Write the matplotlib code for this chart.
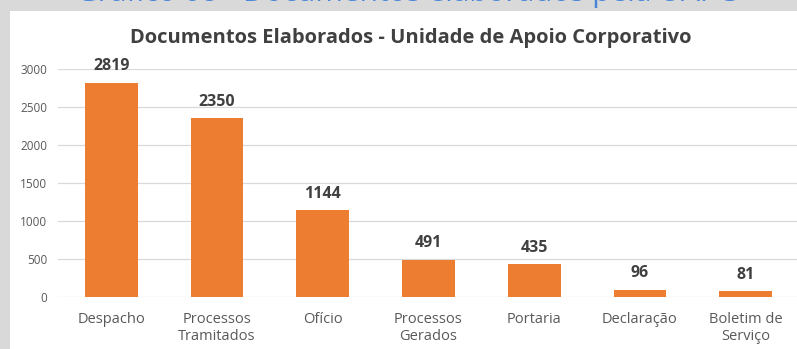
import matplotlib
matplotlib.use("Agg")
import matplotlib.pyplot as plt
from matplotlib.patches import Rectangle

# documents produced by type
categorias = ["Despacho", "Processos\nTramitados", "Ofício", "Processos\nGerados",
              "Portaria", "Declaração", "Boletim de\nServiço"]
valores = [2819, 2350, 1144, 491, 435, 96, 81]
yticks = [0, 500, 1000, 1500, 2000, 2500, 3000]

plt.rcParams["font.family"] = ["Open Sans", "DejaVu Sans"]

fig = plt.figure(figsize=(7.97, 3.49), dpi=100)
fig.patch.set_facecolor("#d9d9d9")

# white chart panel
fig.patches.append(Rectangle((10 / 797, 0), 1, 338 / 349, transform=fig.transFigure,
                             facecolor="white", edgecolor="none", zorder=-10))

# caption of the page, mostly cut off at the top
fig.text(0.51, 1 - 1 / 349, "Gráfico 08 - Documentos elaborados pela UAPC",
         ha="center", va="baseline", fontsize=21.5, color="#4a86d8")

ax = fig.add_axes([58.5 / 797, 52 / 349, 740 / 797, 228 / 349])
ax.set_facecolor("none")

x = range(len(categorias))
ax.bar(x, valores, width=0.5, color="#ed7d31", zorder=3)
for xi, v in zip(x, valores):
    ax.annotate(str(v), (xi, v), xytext=(0, 6), textcoords="offset points",
                ha="center", va="bottom", fontsize=11.5, fontweight="bold", color="#404040")

ax.set_xlim(-0.5, len(categorias) - 0.5)
ax.set_ylim(0, 3000)
ax.set_yticks(yticks)
ax.set_yticklabels([str(t) for t in yticks], fontsize=8.5, color="#595959")
ax.set_xticks(list(x))
ax.set_xticklabels(categorias, fontsize=10.5, color="#595959", linespacing=1.2, va="top")
ax.tick_params(axis="both", length=0)
ax.tick_params(axis="y", pad=8)
ax.tick_params(axis="x", pad=11)
ax.grid(axis="y", color="#d9d9d9", linewidth=0.9, zorder=0)
for s in ax.spines.values():
    s.set_visible(False)

fig.text(411 / 797, 1 - 38.5 / 349, "Documentos Elaborados - Unidade de Apoio Corporativo",
         ha="center", va="center", fontsize=14.5, fontweight="bold", color="#404040")

fig.savefig("out.png", dpi=100, facecolor=fig.get_facecolor())
